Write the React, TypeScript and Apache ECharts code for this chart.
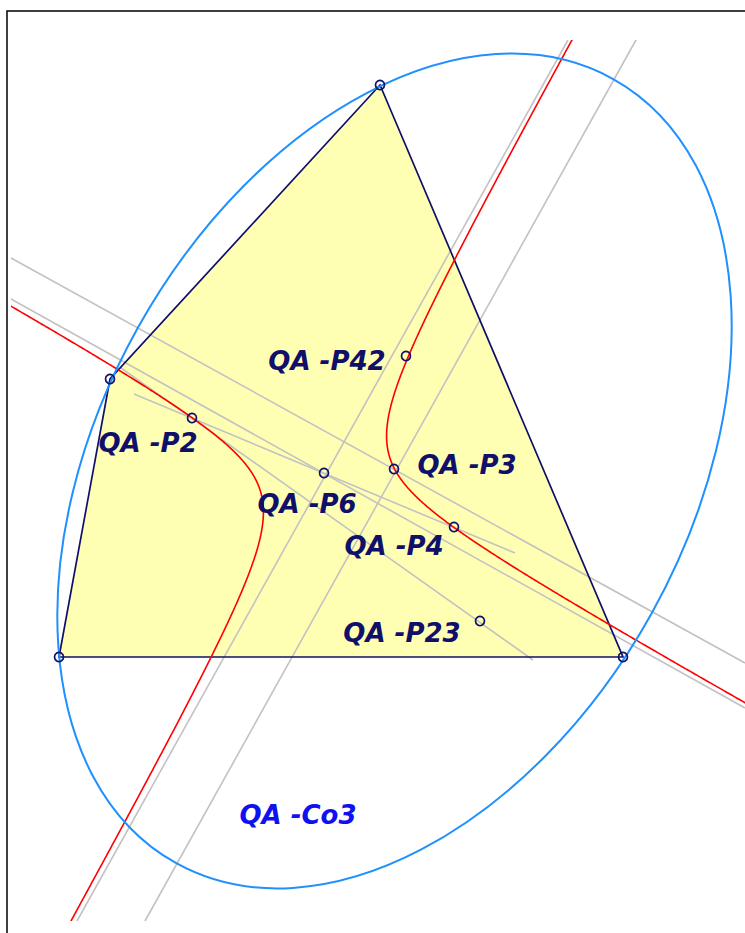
import React, { useEffect, useRef } from "react";
import * as echarts from "echarts";

// Quadrilateral vertices (A, B, C, D) in picture units
const quadX = [380, 110, 59, 623];
const quadY = [85, 379, 657, 657];

// Named points of the figure
const pointNames = ["QA-P42", "QA-P2", "QA-P6", "QA-P3", "QA-P4", "QA-P23"];
const pointX = [406, 192, 324, 394, 454, 480];
const pointY = [356, 418, 473, 469, 527, 621];

// Point labels
const labelTexts = ["QA -P42", "QA -P2", "QA -P3", "QA -P6", "QA -P4", "QA -P23"];
const labelX = [327, 148, 467, 307, 394, 402];
const labelY = [361, 443, 465, 504, 546, 633];

// Conic label
const conicLabel = "QA -Co3";
const conicLabelXY = [298, 815];

// Gray construction lines: [x1, y1, x2, y2]
const grayLines = [
  [11, 258, 745, 663],
  [11, 299, 745, 708],
  [568, 40, 77, 921],
  [636, 40, 145, 921],
  [134, 394, 515, 553],
  [121, 368, 533, 660],
];

// Ellipse (QA-Co3): center, semi-axes, tilt of major axis (degrees)
const ellipseCenter = [394.5, 471];
const ellipseAxes = [449, 294];
const ellipseTilt = 60.86;

// Rectangular hyperbola: center, asymptote angle (degrees), product constant u*v
const hyperCenter = [325, 474];
const hyperAngle = 29.13;
const hyperK = -2230;

// Visible window of the drawing
const xRange = [11, 745];
const yRange = [40, 921];

const NAVY = "#10106a";

export default function App() {
  const ref = useRef<HTMLDivElement>(null);

  useEffect(() => {
    if (!ref.current) return;
    const chart = echarts.init(ref.current, null, { renderer: "svg" });

    const quadData = quadX.map((x, i) => [x, quadY[i]]);

    const quadFill = {
      type: "custom",
      z: 1,
      clip: true,
      data: quadData,
      renderItem: (params: any, api: any) => {
        if (params.dataIndex !== 0) return { type: "group", children: [] };
        const pts = quadData.map((p) => api.coord(p));
        return {
          type: "polygon",
          shape: { points: pts },
          style: { fill: "#ffffb4", stroke: "none" },
        };
      },
    };

    const quadEdge = {
      type: "custom",
      z: 3,
      clip: true,
      data: quadData,
      renderItem: (params: any, api: any) => {
        if (params.dataIndex !== 0) return { type: "group", children: [] };
        const pts = quadData.map((p) => api.coord(p));
        return {
          type: "polygon",
          shape: { points: pts },
          style: { fill: "none", stroke: NAVY, lineWidth: 1.7 },
        };
      },
    };

    const graySeries = grayLines.map((l) => ({
      type: "line",
      z: 2,
      symbol: "none",
      silent: true,
      data: [
        [l[0], l[1]],
        [l[2], l[3]],
      ],
      lineStyle: { color: "#c2c2c2", width: 1.6 },
    }));

    const a = (hyperAngle * Math.PI) / 180;
    const e1 = [Math.cos(a), Math.sin(a)];
    const e2 = [-Math.sin(a), Math.cos(a)];

    const hyperSeries = {
      type: "custom",
      z: 4,
      clip: true,
      data: [[-1], [1]],
      renderItem: (params: any, api: any) => {
        const s = api.value(0);
        const pts: number[][] = [];
        const n = 900;
        const lo = Math.log(2), hi = Math.log(900);
        for (let i = 0; i <= n; i++) {
          const u = s * Math.exp(lo + ((hi - lo) * i) / n);
          const v = hyperK / u;
          const x = hyperCenter[0] + u * e1[0] + v * e2[0];
          const y = hyperCenter[1] + u * e1[1] + v * e2[1];
          if (x < xRange[0] - 2 || x > xRange[1] + 2 || y < yRange[0] - 2 || y > yRange[1] + 2) continue;
          pts.push(api.coord([x, y]));
        }
        return {
          type: "polyline",
          shape: { points: pts },
          style: { fill: "none", stroke: "#ff0000", lineWidth: 1.6 },
        };
      },
    };

    const ellipseSeries = {
      type: "custom",
      z: 4,
      clip: true,
      data: [[ellipseCenter[0], ellipseCenter[1], ellipseAxes[0], ellipseAxes[1]]],
      renderItem: (params: any, api: any) => {
        const c = api.coord([api.value(0), api.value(1)]);
        const sz = api.size([api.value(2), api.value(3)]);
        return {
          type: "ellipse",
          x: c[0],
          y: c[1],
          rotation: (ellipseTilt * Math.PI) / 180,
          shape: { cx: 0, cy: 0, rx: sz[0], ry: sz[1] },
          style: { fill: "none", stroke: "#1e90ff", lineWidth: 2 },
        };
      },
    };

    const pointData = [
      ...quadX.map((x, i) => ({ name: "V" + i, value: [x, quadY[i]] })),
      ...pointX.map((x, i) => ({ name: pointNames[i], value: [x, pointY[i]] })),
    ];

    const pointSeries = {
      type: "scatter",
      z: 6,
      symbol: "circle",
      symbolSize: 9,
      silent: true,
      data: pointData,
      itemStyle: { color: "rgba(255,255,255,0)", borderColor: NAVY, borderWidth: 1.7, opacity: 1 },
    };

    const labelFont = {
      fontFamily: "DejaVu Sans",
      fontStyle: "italic",
      fontWeight: "bold",
      fontSize: 26,
      opacity: 1,
      textBorderWidth: 0,
      textBorderColor: "transparent",
      textShadowBlur: 0,
    };

    const labelSeries = {
      type: "scatter",
      z: 7,
      symbolSize: 1,
      silent: true,
      itemStyle: { color: "rgba(0,0,0,0)", opacity: 1 },
      data: labelTexts.map((t, i) => ({ name: t, value: [labelX[i], labelY[i]] })),
      label: {
        show: true,
        position: "inside",
        formatter: (p: any) => p.name,
        color: NAVY,
        ...labelFont,
      },
    };

    const conicLabelSeries = {
      type: "scatter",
      z: 7,
      symbolSize: 1,
      silent: true,
      itemStyle: { color: "rgba(0,0,0,0)", opacity: 1 },
      data: [{ name: conicLabel, value: conicLabelXY }],
      label: {
        show: true,
        position: "inside",
        formatter: (p: any) => p.name,
        color: "#1010f0",
        ...labelFont,
      },
    };

    chart.setOption({
      animation: false,
      backgroundColor: "#ffffff",
      grid: {
        left: xRange[0],
        top: yRange[0],
        width: xRange[1] - xRange[0],
        height: yRange[1] - yRange[0],
        show: false,
      },
      xAxis: {
        type: "value",
        min: xRange[0],
        max: xRange[1],
        show: false,
      },
      yAxis: {
        type: "value",
        min: yRange[0],
        max: yRange[1],
        inverse: true,
        show: false,
      },
      graphic: [
        {
          type: "rect",
          x: 7,
          y: 11,
          silent: true,
          z: 100,
          shape: { x: 0, y: 0, width: 780, height: 960 },
          style: { fill: "none", stroke: "#000000", lineWidth: 1.5 },
        },
      ],
      series: [
        quadFill,
        ...graySeries,
        quadEdge,
        hyperSeries,
        ellipseSeries,
        pointSeries,
        labelSeries,
        conicLabelSeries,
      ],
    });

    return () => {
      chart.dispose();
    };
  }, []);

  return (
    <div
      ref={ref}
      style={{ position: "fixed", left: 0, top: 0, width: 745, height: 933, background: "#fff" }}
    />
  );
}
